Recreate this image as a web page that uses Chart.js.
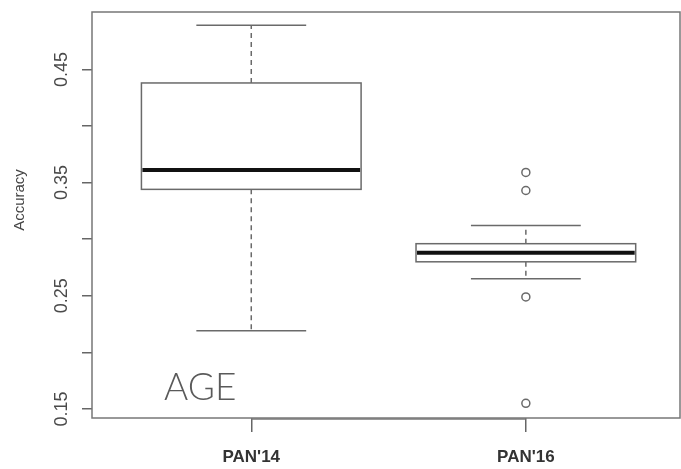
<!DOCTYPE html>
<html>
<head>
<meta charset="utf-8">
<script src="https://cdn.jsdelivr.net/npm/chart.js@4"></script>
<style>
  html, body { margin: 0; padding: 0; background: #fff; }
  #wrap { width: 681px; height: 469px; }
</style>
</head>
<body>
<div id="wrap"><canvas id="chart"></canvas></div>
<script>
// data
const categories = ["PAN'14", "PAN'16"];
const whiskerLow = [0.219, 0.265];
const q1 = [0.344, 0.280];
const median = [0.361, 0.288];
const q3 = [0.438, 0.296];
const whiskerHigh = [0.489, 0.312];
const outlierGroup = [2, 2, 2, 2];
const outlierValues = [0.359, 0.343, 0.249, 0.155];
const yTicks = [0.15, 0.20, 0.25, 0.30, 0.35, 0.40, 0.45];
const yTickLabels = ['0.15', '0.25', '0.35', '0.45'];

const boxColor = '#6a6a6a';

// boxes, whiskers, frame and the extra text
const boxPlugin = {
  id: 'boxes',
  beforeDatasetsDraw(chart) {
    const { ctx, chartArea: a, scales: { x, y } } = chart;
    ctx.save();
    categories.forEach((c, i) => {
      const cx = x.getPixelForValue(i + 1);
      const l = x.getPixelForValue(i + 1 - 0.4), r = x.getPixelForValue(i + 1 + 0.4);
      const cl = x.getPixelForValue(i + 1 - 0.2), cr = x.getPixelForValue(i + 1 + 0.2);
      const yq1 = y.getPixelForValue(q1[i]), yq3 = y.getPixelForValue(q3[i]);
      const ylo = y.getPixelForValue(whiskerLow[i]), yhi = y.getPixelForValue(whiskerHigh[i]);
      const ym = y.getPixelForValue(median[i]);

      ctx.strokeStyle = boxColor;
      ctx.lineWidth = 1.5;
      // dashed whiskers
      ctx.setLineDash([5, 4]);
      ctx.beginPath();
      ctx.moveTo(cx, yq3); ctx.lineTo(cx, yhi);
      ctx.moveTo(cx, yq1); ctx.lineTo(cx, ylo);
      ctx.stroke();
      ctx.setLineDash([]);
      // caps
      ctx.beginPath();
      ctx.moveTo(cl, yhi); ctx.lineTo(cr, yhi);
      ctx.moveTo(cl, ylo); ctx.lineTo(cr, ylo);
      ctx.stroke();
      // box
      ctx.fillStyle = '#fff';
      ctx.fillRect(l, yq3, r - l, yq1 - yq3);
      ctx.strokeRect(l, yq3, r - l, yq1 - yq3);
      // median
      ctx.strokeStyle = '#111';
      ctx.lineWidth = 4;
      ctx.beginPath();
      ctx.moveTo(l + 1, ym); ctx.lineTo(r - 1, ym);
      ctx.stroke();
    });

    // plot frame
    ctx.strokeStyle = '#777';
    ctx.lineWidth = 1.5;
    ctx.strokeRect(a.left, a.top, a.right - a.left - 1, a.bottom - a.top);

    // axis line between the outer ticks
    ctx.beginPath();
    ctx.moveTo(x.getPixelForValue(1), a.bottom + 1);
    ctx.lineTo(x.getPixelForValue(2), a.bottom + 1);
    ctx.stroke();

    // y axis title
    ctx.fillStyle = '#444';
    ctx.font = '15px "Liberation Sans", Arial, sans-serif';
    ctx.textAlign = 'center';
    ctx.textBaseline = 'middle';
    ctx.translate(20, 200);
    ctx.rotate(-Math.PI / 2);
    ctx.fillText('Accuracy', 0, 0);
    ctx.restore();

    ctx.save();
    ctx.fillStyle = '#5a5a5a';
    ctx.font = '300 37px Lato, "Open Sans", sans-serif';
    ctx.textAlign = 'left';
    ctx.textBaseline = 'alphabetic';
    ctx.fillText('AGE', 164, 400);
    ctx.restore();
  }
};

new Chart(document.getElementById('chart'), {
  type: 'scatter',
  data: {
    datasets: [{
      data: outlierGroup.map((g, i) => ({ x: g, y: outlierValues[i] })),
      pointStyle: 'circle',
      pointRadius: 4,
      pointHoverRadius: 4,
      pointBorderWidth: 1.5,
      borderColor: boxColor,
      backgroundColor: '#fff'
    }]
  },
  options: {
    responsive: true,
    maintainAspectRatio: false,
    animation: false,
    layout: { autoPadding: false, padding: { top: 12, right: 0, left: 0, bottom: 0 } },
    plugins: { legend: { display: false }, tooltip: { enabled: false } },
    scales: {
      x: {
        type: 'linear',
        min: 0.42,
        max: 2.565,
        afterFit: s => { s.height = 51; s.paddingLeft = 0; s.paddingRight = 0; },
        afterBuildTicks: s => { s.ticks = categories.map((c, i) => ({ value: i + 1 })); },
        border: { display: false },
        grid: { drawOnChartArea: false, drawTicks: true, tickLength: 14, color: '#666', lineWidth: 1.5 },
        ticks: {
          padding: 15,
          color: '#333',
          font: { family: '"Liberation Sans", Arial, sans-serif', size: 17, weight: 'bold' },
          callback: v => categories[v - 1] || ''
        }
      },
      y: {
        min: 0.142,
        max: 0.5007,
        afterFit: s => { s.width = 92; s.paddingTop = 0; s.paddingBottom = 0; },
        afterBuildTicks: s => { s.ticks = yTicks.map(v => ({ value: v })); },
        border: { display: false },
        grid: { drawOnChartArea: false, drawTicks: true, tickLength: 10, color: '#666', lineWidth: 1.5 },
        ticks: {
          minRotation: 90,
          maxRotation: 90,
          crossAlign: 'center',
          padding: 2,
          color: '#4a4a4a',
          font: { family: '"Liberation Sans", Arial, sans-serif', size: 18 },
          callback: v => {
            const t = v.toFixed(2);
            return yTickLabels.includes(t) ? t : '';
          }
        }
      }
    }
  },
  plugins: [boxPlugin]
});
</script>
</body>
</html>
